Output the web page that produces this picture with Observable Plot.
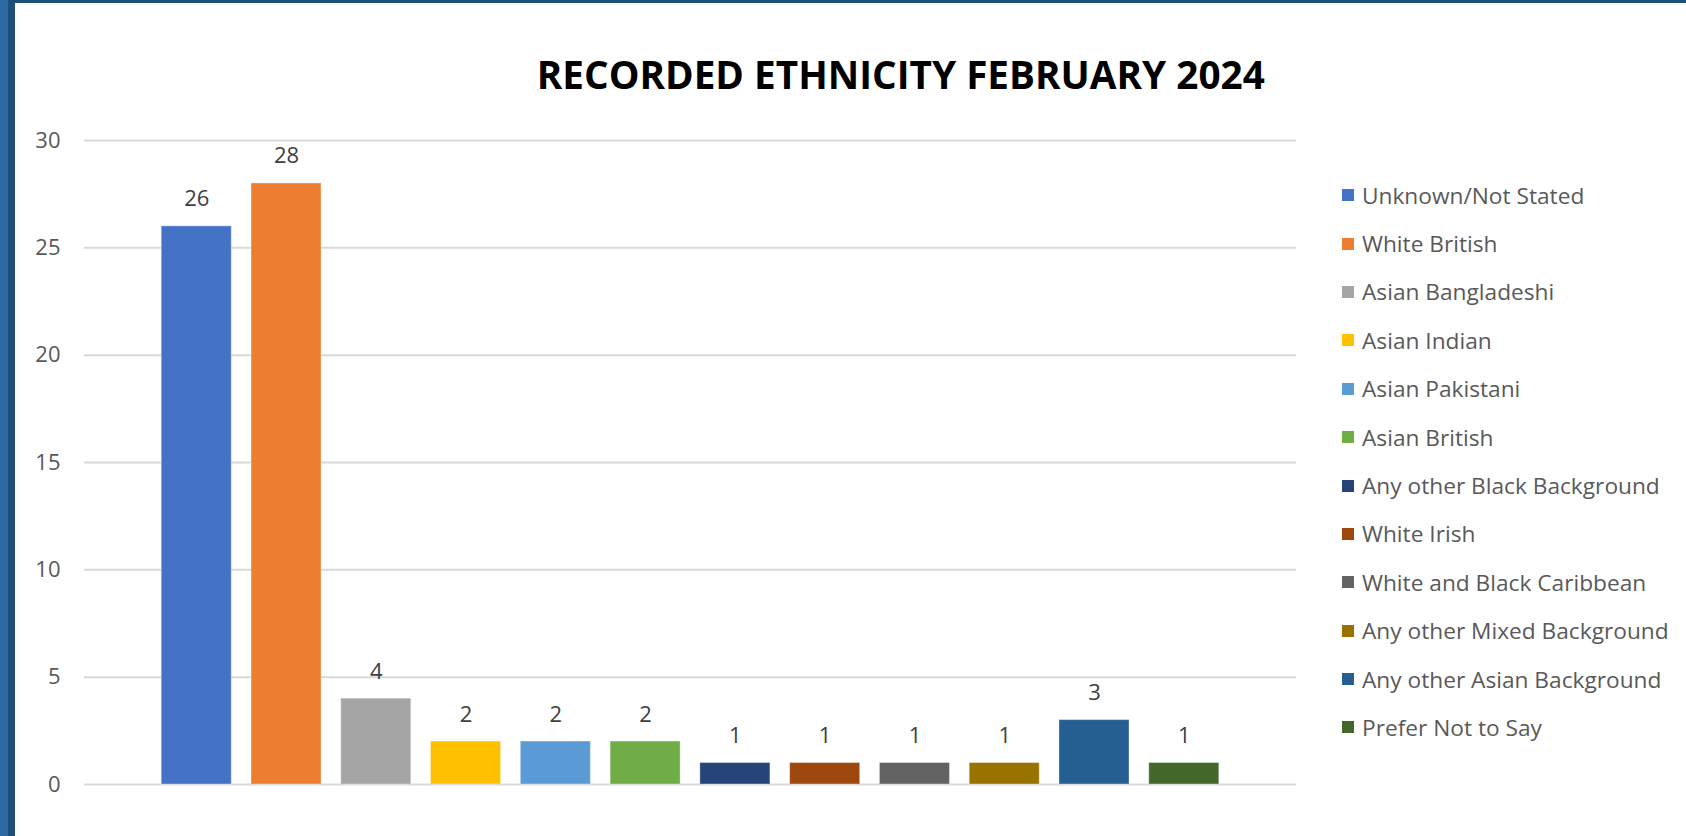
<!DOCTYPE html>
<html>
<head>
<meta charset="utf-8">
<script src="https://cdn.jsdelivr.net/npm/d3@7"></script>
<script src="https://cdn.jsdelivr.net/npm/@observablehq/plot@0.6"></script>
<style>
  html, body { margin: 0; padding: 0; background: #fff; }
  #page { position: relative; width: 1686px; height: 836px; overflow: hidden; background: #fff; font-family: "Open Sans", sans-serif; }
  #edgeL1 { position: absolute; left: 0; top: 0; width: 8px; height: 836px; background: #2d6aa3; }
  #edgeL2 { position: absolute; left: 8px; top: 0; width: 7px; height: 836px; background: #1f4e79; }
  #edgeT { position: absolute; left: 8px; top: 0; width: 1678px; height: 3px; background: #1f4e79; }
  #chart { position: absolute; left: 0; top: 0; }
  #title { position: absolute; top: 47px; left: 0; width: 1802px; text-align: center; font-family: "Liberation Sans Narrow", "Open Sans", sans-serif; font-weight: bold; font-size: 39px; color: #000; white-space: nowrap; }
  #title span { display: inline-block; transform-origin: center; }
  #legend { position: absolute; left: 1342px; top: 171px; }
  .item { display: flex; align-items: center; height: 48.4px; font-size: 22.7px; color: #595959; white-space: nowrap; }
  .sw { width: 12px; height: 12px; margin-right: 8px; flex: none; }
</style>
</head>
<body>
<div id="page">
  <div id="chart"></div>
  <div id="edgeL1"></div><div id="edgeL2"></div><div id="edgeT"></div>
  <div id="title"><span id="titleText"></span></div>
  <div id="legend"></div>
</div>
<script>
const titleText = "RECORDED ETHNICITY FEBRUARY 2024";
const categories = [
  "Unknown/Not Stated", "White British", "Asian Bangladeshi", "Asian Indian",
  "Asian Pakistani", "Asian British", "Any other Black Background", "White Irish",
  "White and Black Caribbean", "Any other Mixed Background", "Any other Asian Background", "Prefer Not to Say"
];
const counts = [26, 28, 4, 2, 2, 2, 1, 1, 1, 1, 3, 1];
const colors = [
  "#4472C4", "#ED7D31", "#A5A5A5", "#FFC000", "#5B9BD5", "#70AD47",
  "#264478", "#9E480E", "#636363", "#997300", "#255E91", "#43682B"
];
const yTicks = [0, 5, 10, 15, 20, 25, 30];

const data = categories.map((c, i) => ({category: c, value: counts[i]}));

const chart = Plot.plot({
  width: 1686,
  height: 836,
  marginLeft: 84,
  marginRight: 390,
  marginTop: 140,
  marginBottom: 52,
  style: {fontFamily: "'Open Sans', sans-serif", fontSize: "22px", color: "#595959", background: "transparent"},
  x: {type: "band", domain: categories, paddingInner: 0.22, paddingOuter: 0.86, round: false, axis: null},
  y: {domain: [0, 30], ticks: yTicks, tickSize: 0, tickPadding: 24, label: null},
  color: {type: "ordinal", domain: categories, range: colors},
  marks: [
    Plot.ruleY(yTicks, {stroke: "#d9d9d9", strokeWidth: 2}),
    Plot.barY(data, {x: "category", y: "value", fill: "category", stroke: "#ffffff", strokeOpacity: 0.35, strokeWidth: 1}),
    Plot.text(data, {x: "category", y: "value", text: d => String(d.value), dy: -27, lineAnchor: "middle", fill: "#404040", fontSize: 22}),
    Plot.axisY({ticks: yTicks, tickSize: 0, tickPadding: 24, fill: "#595959", fontSize: 22, label: null})
  ]
});
document.getElementById("chart").appendChild(chart);

const t = document.getElementById("titleText");
t.textContent = titleText;
const w = t.getBoundingClientRect().width;
t.style.transform = `scaleX(${728 / w})`;

const legend = document.getElementById("legend");
categories.forEach((c, i) => {
  const item = document.createElement("div");
  item.className = "item";
  const sw = document.createElement("span");
  sw.className = "sw";
  sw.style.background = colors[i];
  const lab = document.createElement("span");
  lab.textContent = c;
  item.appendChild(sw);
  item.appendChild(lab);
  legend.appendChild(item);
});
</script>
</body>
</html>
